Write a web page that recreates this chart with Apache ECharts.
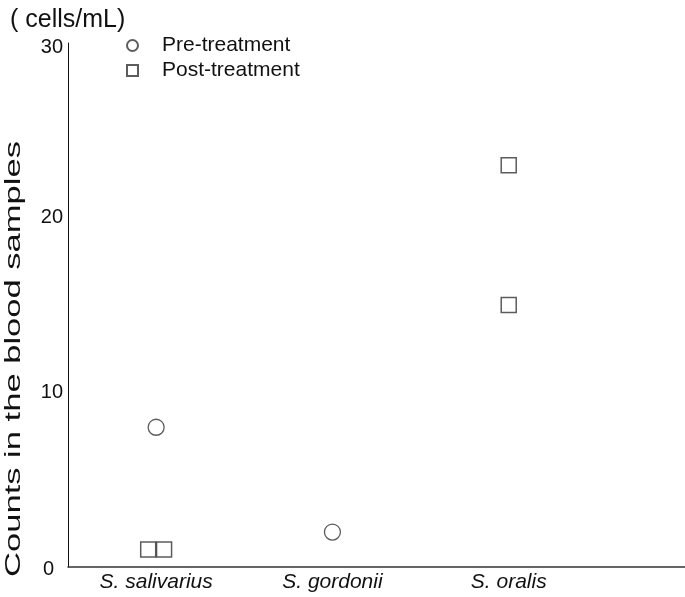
<!DOCTYPE html>
<html>
<head>
<meta charset="utf-8">
<script src="https://cdn.jsdelivr.net/npm/echarts@6/dist/echarts.min.js"></script>
<style>html,body{margin:0;padding:0;background:#fff}#c{width:685px;height:597px}</style>
</head>
<body>
<div id="c"></div>
<script>
var categories = ['S. salivarius', 'S. gordonii', 'S. oralis'];
var yTicks = [0, 10, 20, 30];
// Pre-treatment: category index, count
var preCat = [0, 1];
var preVal = [8, 2];
// Post-treatment: category index, horizontal jitter (in category units), count
var postCat = [0, 0, 2, 2];
var postJitter = [-0.045, 0.045, 0, 0];
var postVal = [1, 1, 23, 15];

var preData = preCat.map(function (c, i) { return [c + 0.5, preVal[i]]; });
var postData = postCat.map(function (c, i) { return [c + 0.5 + postJitter[i], postVal[i]]; });

var chart = echarts.init(document.getElementById('c'));
var font = 'Liberation Sans, Arial, sans-serif';
chart.setOption({
  animation: false,
  backgroundColor: '#fff',
  title: {
    text: '( cells/mL)', left: 5, top: 3,
    textStyle: { fontFamily: font, fontSize: 25, fontWeight: 'normal', color: '#111' }
  },
  legend: {
    orient: 'vertical', left: 121, top: 30, itemWidth: 11, itemHeight: 11, itemGap: 4,
    textStyle: { fontFamily: font, fontSize: 21, color: '#111', padding: [0, 0, 0, 19] },
    data: ['Pre-treatment', 'Post-treatment']
  },
  graphic: [{
    type: 'text', x: 14, y: 359, rotation: Math.PI / 2, scaleX: 1.57,
    style: { text: 'Counts in the blood samples', fontFamily: font, fontSize: 22, fill: '#111', align: 'center', verticalAlign: 'middle' }
  }],
  grid: { left: 68, right: 0, top: 43, bottom: 30, containLabel: false },
  xAxis: {
    type: 'value', min: 0, max: 3.5, interval: 0.5,
    axisLine: { show: true, onZero: false, lineStyle: { color: '#333', width: 1.5 } },
    axisTick: { show: false },
    splitLine: { show: false },
    axisLabel: {
      customValues: categories.map(function (c, i) { return i + 0.5; }),
      formatter: function (v) { var i = Math.round(v - 0.5); return categories[i] || ''; },
      fontFamily: font, fontSize: 21, fontStyle: 'italic', color: '#111', margin: 5
    }
  },
  yAxis: {
    type: 'value', min: 0, max: 30, interval: 10,
    axisLine: { show: true, lineStyle: { color: '#111', width: 1 } },
    axisTick: { show: false },
    splitLine: { show: false },
    axisLabel: {
      customValues: yTicks,
      formatter: function (v) { return v === 0 ? '{z|0}' : (v === 30 ? '{t|30}' : String(v)); },
      rich: {
        z: { fontFamily: font, fontSize: 20, color: '#111', padding: [5, 9, 0, 0] },
        t: { fontFamily: font, fontSize: 20, color: '#111', padding: [9, 0, 0, 0] }
      },
      fontFamily: font, fontSize: 20, color: '#111', margin: 5
    }
  },
  series: [
    {
      name: 'Pre-treatment', type: 'scatter', symbol: 'circle', symbolSize: 16,
      itemStyle: { color: '#fff', borderColor: '#333', borderWidth: 1.3 },
      data: preData
    },
    {
      name: 'Post-treatment', type: 'scatter', symbol: 'rect', symbolSize: 15,
      itemStyle: { color: '#fff', borderColor: '#333', borderWidth: 1.5 },
      data: postData
    }
  ]
});
</script>
</body>
</html>
